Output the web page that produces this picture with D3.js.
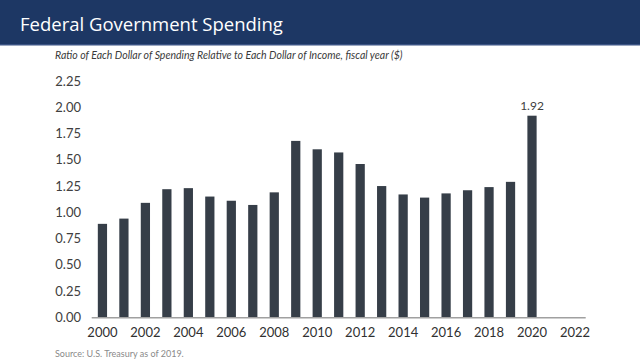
<!DOCTYPE html>
<html><head><meta charset="utf-8">
<script src="https://cdn.jsdelivr.net/npm/d3@7"></script>
<style>body{margin:0;background:#fff}svg{display:block}</style>
</head><body>
<svg id="c" width="640" height="360"></svg>
<script>
const title = "Federal Government Spending";
const subtitle = "Ratio of Each Dollar of Spending Relative to Each Dollar of Income, fiscal year ($)";
const source = "Source: U.S. Treasury as of 2019.";
const years = [2000,2001,2002,2003,2004,2005,2006,2007,2008,2009,2010,2011,2012,2013,2014,2015,2016,2017,2018,2019,2020,2021,2022];
const ratios = [0.89,0.94,1.09,1.22,1.23,1.15,1.11,1.07,1.19,1.68,1.60,1.57,1.46,1.25,1.17,1.14,1.18,1.21,1.24,1.29,1.92,null,null];
const yTicks = [0,0.25,0.5,0.75,1,1.25,1.5,1.75,2,2.25];
const xTickYears = [2000,2002,2004,2006,2008,2010,2012,2014,2016,2018,2020,2022];
const labelYear = 2020;

const svg = d3.select("#c");
const font = "Lato, 'Open Sans', sans-serif";

svg.append("rect").attr("x",0).attr("y",0).attr("width",640).attr("height",45).attr("fill","#1d3764");
svg.append("rect").attr("x",0).attr("y",44).attr("width",640).attr("height",1.5).attr("fill","#3a5283");
svg.append("text").attr("x",20).attr("y",30.5).attr("fill","#fff")
  .attr("font-family","'Open Sans', sans-serif").attr("font-size",18.5).text(title);
svg.append("text").attr("x",55).attr("y",59).attr("fill","#3a3a3a")
  .attr("font-family",font).attr("font-style","italic").attr("font-size",10.5).text(subtitle);
svg.append("text").attr("x",55).attr("y",357).attr("fill","#8a8a8a")
  .attr("font-family",font).attr("font-size",9).text(source);

const x = d3.scaleBand().domain(years).range([91.7,585.7]).paddingInner(0.57).paddingOuter(0.285);
const y = d3.scaleLinear().domain([0,2.25]).range([317.3,81.05]);

const data = years.map((yr,i)=>({yr,v:ratios[i]})).filter(d=>d.v!=null);

svg.append("g").selectAll("rect").data(data).join("rect")
  .attr("x",d=>x(d.yr)).attr("width",x.bandwidth())
  .attr("y",d=>y(d.v)).attr("height",d=>y(0)-y(d.v)).attr("fill","#363e48");

// y axis labels
const yAxis = d3.axisLeft(y).tickValues(yTicks).tickFormat(d3.format(".2f")).tickSize(0).tickPadding(0);
const gy = svg.append("g").attr("transform","translate(81,0)").call(yAxis);
gy.select(".domain").remove();
gy.selectAll("text").attr("font-family",font).attr("font-size",13).attr("fill","#404040");

// x axis
const xAxis = d3.axisBottom(x).tickValues(xTickYears).tickSize(0).tickPadding(10);
const gx = svg.append("g").attr("transform",`translate(0,${y(0)})`).call(xAxis);
gx.select(".domain").attr("stroke","#a0a0a0").attr("stroke-width",1.5).attr("d","M91.7,0.5H585.7");
gx.selectAll("text").attr("font-family",font).attr("font-size",13).attr("fill","#303030");

// data label
const lab = data.find(d=>d.yr===labelYear);
svg.append("text").attr("x",x(lab.yr)+x.bandwidth()/2).attr("y",y(lab.v)-6)
  .attr("text-anchor","middle").attr("font-family",font).attr("font-size",12).attr("fill","#404040")
  .text(d3.format(".2f")(lab.v));
</script>
</body></html>
